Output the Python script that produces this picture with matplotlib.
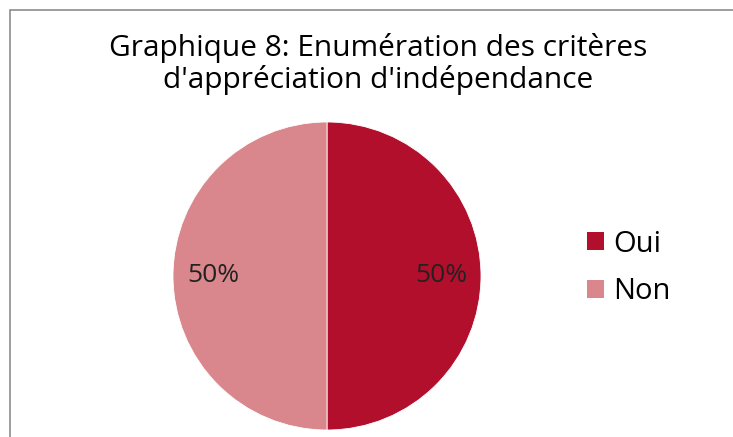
import matplotlib.pyplot as plt
from matplotlib.patches import Rectangle, Patch

# data
labels = ['Oui', 'Non']
values = [50, 50]
colors = ['#B20F2D', '#D9878C']
title = "Graphique 8: Enumération des critères\nd'appréciation d'indépendance"

plt.rcParams['font.family'] = ['Open Sans', 'DejaVu Sans']

W, H = 733, 437
fig = plt.figure(figsize=(W / 100, H / 100), dpi=100)

# frame of the chart area (partly cut by the image edge)
fig.patches.append(Rectangle((10 / W, -0.05), 1.0, 1 - 10 / H + 0.05,
                             transform=fig.transFigure, fill=False,
                             edgecolor='#8c8c8c', linewidth=1.2))

ax = fig.add_axes([173 / W, 7 / H, 308 / W, 308 / H])
wedges, texts, autotexts = ax.pie(values, colors=colors, startangle=90,
                                  counterclock=False, autopct='%1.0f%%',
                                  pctdistance=0.74, radius=1,
                                  wedgeprops=dict(edgecolor='white', linewidth=0.6),
                                  textprops=dict(fontsize=19, color='#222222'))
ax.set_xlim(-1, 1)
ax.set_ylim(-1, 1)
ax.set_aspect('equal')

fig.text(378 / W, 1 - 64 / H, title, ha='center', va='center',
         fontsize=21.5, linespacing=1.05, color='black')

handles = [Patch(facecolor=c, edgecolor='none') for c in colors]
fig.legend(handles, labels, loc='center left', bbox_to_anchor=(575 / W, 1 - 268 / H),
           frameon=False, fontsize=21, handlelength=0.6, handleheight=0.6,
           handletextpad=0.3, labelspacing=0.65, borderaxespad=0)

fig.savefig('out.png', dpi=100)
